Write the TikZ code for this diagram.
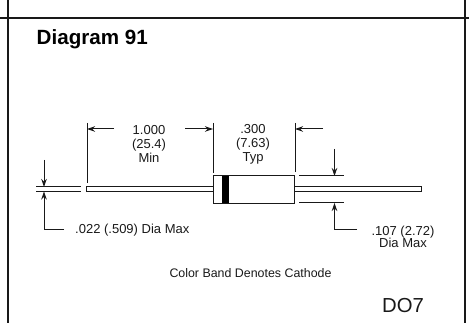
\documentclass[tikz,border=0pt]{standalone}
\usepackage{fontspec}
\setmainfont{Liberation Sans}
\usetikzlibrary{arrows.meta}
\definecolor{inkblack}{RGB}{25,25,25}

\begin{document}
\begin{tikzpicture}[x=1pt,y=-1pt]
    % Define styles
    \tikzstyle{rule} = [line width=1.5pt,inkblack]
    \tikzstyle{line} = [line width=1pt,inkblack]
    \tikzstyle{arrow} = [line width=1pt,inkblack,-{Stealth[length=8pt,width=5.5pt]}]
    \tikzstyle{bodybox} = [draw=inkblack,line width=1.1pt,fill=white,inner sep=0pt,minimum width=81.5pt,minimum height=27.5pt]
    \tikzstyle{band} = [fill=black,inner sep=0pt,minimum width=7.5pt,minimum height=27.5pt]
    \tikzstyle{leadbox} = [draw=inkblack,line width=1pt,fill=white,inner sep=0pt,minimum height=4.5pt]
    \tikzstyle{label} = [inner sep=0pt,font=\fontsize{13}{14}\selectfont,align=center,text=inkblack]

    \useasboundingbox (0,0) rectangle (469,323);

    % Page frame
    \coordinate (tl) at (0,18);
    \coordinate (tr) at (469,18);
    \coordinate (lt) at (8,0);
    \coordinate (lb) at (8,323);
    \coordinate (rt) at (465,0);
    \coordinate (rb) at (465,323);
    \draw [rule] (tl) -- (tr);
    \draw [rule] (lt) -- (lb);
    \draw [rule] (rt) -- (rb);

    % Diode
    \node (leadl) [leadbox,minimum width=127pt] at (149.5,189.2) {};
    \node (leadr) [leadbox,minimum width=127pt] at (358.2,189.2) {};
    \node (body) [bodybox] at (254,189.5) {};
    \node (cband) [band] at (225.5,189.5) {};

    % Texts
    \node (title) [inner sep=0pt,anchor=west,font=\fontsize{20.6}{22}\bfseries\selectfont,text=black] at (36.5,39.5) {Diagram 91};
    \node (len) [label] at (149,144) {1.000\\(25.4)\\Min};
    \node (wid) [label] at (253,144) {.300\\(7.63)\\Typ};
    \node (dial) [label,anchor=west] at (75,230) {.022 (.509) Dia Max};
    \node (diar) [label] at (403,236.5) {.107 (2.72)\\[-2pt]Dia Max};
    \node (note) [label,font=\fontsize{12.4}{14}\selectfont] at (250.5,273) {Color Band Denotes Cathode};
    \node (pkg) [inner sep=0pt,font=\fontsize{20.3}{22}\selectfont,text=inkblack] at (403,306) {DO7};

    % Length dimensions
    \coordinate (e1a) at (87,123);
    \coordinate (e1b) at (87,183);
    \coordinate (e2a) at (213,123);
    \coordinate (e2b) at (213,173);
    \coordinate (e3a) at (295,123);
    \coordinate (e3b) at (295,172);
    \draw [line] (e1a) -- (e1b);
    \draw [line] (e2a) -- (e2b);
    \draw [line] (e3a) -- (e3b);
    \coordinate (a1) at (114,129);
    \coordinate (a1e) at (87,129);
    \coordinate (a2) at (185,129);
    \coordinate (a2e) at (213,129);
    \coordinate (a3) at (323,129);
    \coordinate (a3e) at (295,129);
    \draw [arrow] (a1) -- (a1e);
    \draw [arrow] (a2) -- (a2e);
    \draw [arrow] (a3) -- (a3e);

    % Lead diameter
    \coordinate (w1a) at (36,187);
    \coordinate (w1b) at (81,187);
    \coordinate (w2a) at (36,191.5);
    \coordinate (w2b) at (81,191.5);
    \draw [line] (w1a) -- (w1b);
    \draw [line] (w2a) -- (w2b);
    \coordinate (d1) at (44,160);
    \coordinate (d1e) at (44,187);
    \coordinate (d2) at (64,230);
    \coordinate (d2c) at (44,230);
    \coordinate (d2e) at (44,191.5);
    \draw [arrow] (d1) -- (d1e);
    \draw [arrow] (d2) -- (d2c) -- (d2e);

    % Body diameter
    \coordinate (w3a) at (299,176);
    \coordinate (w3b) at (344,176);
    \coordinate (w4a) at (299,203);
    \coordinate (w4b) at (344,203);
    \draw [line] (w3a) -- (w3b);
    \draw [line] (w4a) -- (w4b);
    \coordinate (d3) at (334.5,149);
    \coordinate (d3e) at (334.5,176);
    \coordinate (d4) at (357,230);
    \coordinate (d4c) at (334.5,230);
    \coordinate (d4e) at (334.5,203);
    \draw [arrow] (d3) -- (d3e);
    \draw [arrow] (d4) -- (d4c) -- (d4e);
\end{tikzpicture}
\end{document}
